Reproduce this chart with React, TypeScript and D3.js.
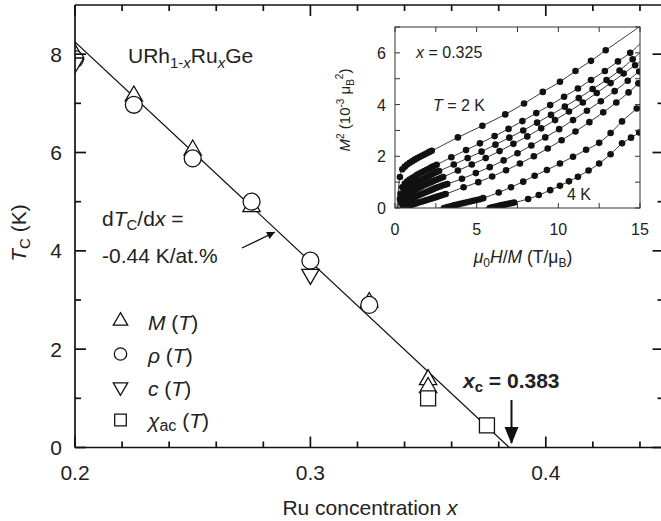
import React from 'react';
import * as d3 from 'd3';

// main panel: Tc vs Ru concentration
const mX = [0.2, 0.225, 0.25, 0.275, 0.325, 0.35, 0.35];
const mT = [8.0, 7.15, 6.05, 4.9, 2.95, 1.38, 1.22];
const rhoX = [0.2, 0.225, 0.25, 0.275, 0.3, 0.325];
const rhoT = [7.9, 6.97, 5.88, 5.0, 3.8, 2.9];
const cX = [0.2, 0.3];
const cT = [7.82, 3.52];
const chiX = [0.35, 0.375];
const chiT = [1.0, 0.45];
const fitX = [0.2, 0.3845];
const fitT = [8.25, 0];

const xTickVals = [0.2, 0.22, 0.24, 0.26, 0.28, 0.3, 0.32, 0.34, 0.36, 0.38, 0.4, 0.42, 0.44];
const xTickLabels = ['0.2', '0.3', '0.4'];
const yTickVals = [0, 1, 2, 3, 4, 5, 6, 7, 8];
const yTickLabels = ['0', '2', '4', '6', '8'];

// inset: Arrott plot, x = 0.325, T = 2 K ... 4 K
const c1 = [[0.3, 1.2], [0.45, 1.5], [0.6, 1.6], [0.75, 1.68], [0.9, 1.75], [1.05, 1.81], [1.2, 1.87], [1.35, 1.92], [1.5, 1.97], [1.65, 2.02], [1.8, 2.07], [1.95, 2.12], [2.1, 2.17], [2.25, 2.21],
  [3.85, 2.73], [5.35, 3.18], [6.75, 3.62], [7.9, 4.04], [9.05, 4.49], [10.1, 4.88], [11.05, 5.3], [12.0, 5.69], [12.9, 6.1]];
const c2 = [[0.35, 0.55], [0.45, 0.8], [0.6, 0.95], [0.75, 1.03], [0.9, 1.1], [1.05, 1.16], [1.2, 1.22], [1.35, 1.28], [1.5, 1.33], [1.65, 1.38], [1.8, 1.43], [1.95, 1.48], [2.1, 1.53], [2.25, 1.58], [2.4, 1.62], [2.55, 1.67],
  [3.45, 1.96], [4.35, 2.24], [5.2, 2.5], [6.1, 2.78], [6.95, 3.06], [7.8, 3.36], [8.65, 3.67], [9.5, 3.98], [10.35, 4.3], [11.2, 4.62], [12.0, 4.95], [12.85, 5.3], [13.65, 5.67], [14.4, 6.0]];
const c3 = [[0.3, 0.35], [0.45, 0.55], [0.6, 0.68], [0.75, 0.76], [0.9, 0.83], [1.05, 0.89], [1.2, 0.95], [1.35, 1.0], [1.5, 1.05], [1.65, 1.1], [1.8, 1.15], [1.95, 1.2], [2.1, 1.25], [2.25, 1.3], [2.4, 1.35], [2.55, 1.39], [2.7, 1.43],
  [3.6, 1.68], [4.45, 1.93], [5.3, 2.18], [6.15, 2.45], [7.0, 2.72], [7.85, 3.0], [8.7, 3.3], [9.55, 3.6], [10.4, 3.92], [11.25, 4.25], [12.1, 4.6], [12.95, 4.95], [13.75, 5.32], [14.55, 5.75]];
const c4 = [[0.4, 0.2], [0.55, 0.38], [0.7, 0.48], [0.85, 0.55], [1.0, 0.61], [1.15, 0.67], [1.3, 0.72], [1.45, 0.77], [1.6, 0.82], [1.75, 0.87], [1.9, 0.92], [2.05, 0.96], [2.2, 1.0], [2.35, 1.04], [2.5, 1.08], [2.65, 1.12], [2.8, 1.16], [2.95, 1.2],
  [3.85, 1.45], [4.7, 1.68], [5.55, 1.93], [6.4, 2.2], [7.25, 2.48], [8.1, 2.77], [8.95, 3.08], [9.8, 3.4], [10.65, 3.73], [11.5, 4.08], [12.35, 4.45], [13.2, 4.83], [14.0, 5.2], [14.7, 5.52]];
const c5 = [[0.5, 0.1], [0.65, 0.2], [0.8, 0.27], [0.95, 0.33], [1.1, 0.38], [1.25, 0.43], [1.4, 0.48], [1.55, 0.52], [1.7, 0.56], [1.85, 0.6], [2.0, 0.64], [2.15, 0.68], [2.3, 0.72], [2.45, 0.76], [2.6, 0.8], [2.75, 0.83], [2.9, 0.87], [3.05, 0.9], [3.2, 0.93],
  [4.1, 1.13], [4.95, 1.35], [5.8, 1.58], [6.65, 1.84], [7.5, 2.12], [8.35, 2.42], [9.2, 2.73], [10.05, 3.05], [10.9, 3.4], [11.75, 3.76], [12.6, 4.13], [13.45, 4.52], [14.25, 4.92], [14.95, 5.28]];
const c6 = [[0.7, 0.03], [0.85, 0.08], [1.0, 0.12], [1.15, 0.15], [1.3, 0.18], [1.45, 0.21], [1.6, 0.24], [1.75, 0.27], [1.9, 0.3], [2.05, 0.33], [2.2, 0.36], [2.35, 0.39], [2.5, 0.42], [2.65, 0.45], [2.8, 0.48], [2.95, 0.51], [3.1, 0.54],
  [4.2, 0.8], [5.1, 1.0], [5.95, 1.22], [6.8, 1.46], [7.65, 1.72], [8.5, 2.0], [9.35, 2.3], [10.2, 2.62], [11.05, 2.96], [11.9, 3.32], [12.75, 3.7], [13.55, 4.08], [14.3, 4.47], [14.9, 4.82]];
const c7 = [[3.0, 0.0], [3.2, 0.04], [3.4, 0.07], [3.6, 0.1], [3.8, 0.13], [4.0, 0.16], [4.2, 0.19], [4.4, 0.22], [4.6, 0.25], [4.8, 0.28], [5.0, 0.31], [5.2, 0.34], [5.4, 0.38],
  [6.35, 0.6], [7.1, 0.8], [7.85, 1.02], [8.55, 1.25], [9.3, 1.47], [10.1, 1.72], [10.9, 1.98], [11.7, 2.25], [12.5, 2.52], [13.2, 2.9], [13.9, 3.35], [14.8, 3.85]];
const c8 = [[5.8, 0.0], [5.95, 0.03], [6.1, 0.05], [6.25, 0.07], [6.4, 0.09], [6.55, 0.11], [6.7, 0.13], [6.85, 0.15], [7.0, 0.17], [7.15, 0.19], [7.3, 0.21],
  [8.15, 0.35], [8.8, 0.5], [9.5, 0.69], [10.1, 0.86], [10.65, 1.03], [11.2, 1.21], [11.85, 1.45], [12.5, 1.72], [13.2, 2.08], [13.9, 2.5], [14.45, 2.72], [14.95, 2.92]];
const curves = [c1, c2, c3, c4, c5, c6, c7, c8];
// where the fitted lines start and end (outside the dots)
const lineStart = [[0.12, 0], [0.15, 0], [0.15, 0], [0.2, 0], [0.3, 0], [0.4, 0], [2.6, 0], [5.5, 0]];
const lineEnd = [[14.95, 7.0], [15, 6.35], [15, 6.0], [15, 5.65], [15, 5.3], [15, 4.9], [15, 3.97], [15, 2.95]];

const insetXTicks = [0, 2.5, 5, 7.5, 10, 12.5, 15];
const insetXLabels = ['0', '5', '10', '15'];
const insetYTicks = [0, 1, 2, 3, 4, 5, 6, 7];
const insetYLabels = ['0', '2', '4', '6'];

const FONT = '"Liberation Sans", Arial, Helvetica, sans-serif';

const App = () => {
  const x = d3.scaleLinear().domain([0.2, 0.45]).range([75, 663.5]);
  const y = d3.scaleLinear().domain([0, 9]).range([447.5, 5]);

  const ix = d3.scaleLinear().domain([0, 15]).range([395, 640]);
  const iy = d3.scaleLinear().domain([0, 7]).range([208, 27]);

  const tri = d3.symbol().type(d3.symbolTriangle).size(130)();
  const circ = d3.symbol().type(d3.symbolCircle).size(225)();
  const sq = d3.symbol().type(d3.symbolSquare).size(225)();
  const triS = d3.symbol().type(d3.symbolTriangle).size(90)();
  const circS = d3.symbol().type(d3.symbolCircle).size(120)();
  const sqS = d3.symbol().type(d3.symbolSquare).size(135)();

  const fitLine = d3.line<number>().x((d, i) => x(fitX[i])).y((d, i) => y(fitT[i]));
  const curveLine = d3.line<number[]>().x(d => ix(d[0])).y(d => iy(d[1])).curve(d3.curveCatmullRom);

  const y0 = y(0);
  const x0 = x(0.2);
  const xR = x(0.45);
  const yT = y(9);

  const mk = (path: string, cx: number, cy: number, rot = 0, key?: any) => (
    <path key={key} d={path} transform={`translate(${cx},${cy}) rotate(${rot})`} fill="white" stroke="#111" strokeWidth={1.3} />
  );

  return (
    <svg width={661} height={521} style={{ position: 'absolute', left: 0, top: 0 }} fontFamily={FONT}>
      <defs>
        <clipPath id="plot"><rect x={x0} y={yT} width={xR - x0} height={y0 - yT} /></clipPath>
        <clipPath id="inset"><rect x={ix(0)} y={iy(7)} width={ix(15) - ix(0)} height={iy(0) - iy(7)} /></clipPath>
        <marker id="ah" viewBox="0 0 10 10" refX="10" refY="5" markerWidth="11" markerHeight="8" markerUnits="userSpaceOnUse" orient="auto">
          <path d="M0,0 L10,5 L0,10 z" fill="#111" />
        </marker>
      </defs>
      <rect width={661} height={521} fill="white" />

      {/* fit line and data */}
      <g clipPath="url(#plot)">
        <path d={fitLine(fitX) || ''} fill="none" stroke="#111" strokeWidth={1.2} />
        {mX.map((v, i) => mk(tri, x(v), y(mT[i]), 0, 'm' + i))}
        {rhoX.map((v, i) => mk(circ, x(v), y(rhoT[i]), 0, 'r' + i))}
        {cX.map((v, i) => mk(tri, x(v), y(cT[i]), 180, 'c' + i))}
        {chiX.map((v, i) => mk(sq, x(v), y(chiT[i]), 0, 's' + i))}
      </g>

      {/* axes frame */}
      <g stroke="#111" strokeWidth={1.7} fill="none">
        <line x1={x0} y1={y0} x2={xR} y2={y0} />
        <line x1={x0} y1={yT} x2={xR} y2={yT} />
        <line x1={x0} y1={yT} x2={x0} y2={y0} />
        <line x1={xR} y1={yT} x2={xR} y2={y0} />
        {xTickVals.map((v, i) => {
          const len = i % 5 === 0 ? 11 : 6;
          return <g key={'xt' + i}>
            <line x1={x(v)} x2={x(v)} y1={y0} y2={y0 - len} />
            <line x1={x(v)} x2={x(v)} y1={yT} y2={yT + len} />
          </g>;
        })}
        {yTickVals.map((v, i) => {
          const len = v % 2 === 0 ? 11 : 6;
          return <g key={'yt' + i}>
            <line x1={x0} x2={x0 + len} y1={y(v)} y2={y(v)} />
            <line x1={xR} x2={xR - len} y1={y(v)} y2={y(v)} />
          </g>;
        })}
      </g>
      <g fontSize={21} fill="#222">
        {xTickLabels.map(t => <text key={t} x={x(+t)} y={480} textAnchor="middle">{t}</text>)}
        {yTickLabels.map(t => <text key={t} x={62} y={y(+t) + 7.5} textAnchor="end">{t}</text>)}
        <text x={370} y={515} textAnchor="middle">Ru concentration <tspan fontStyle="italic">x</tspan></text>
        <text transform="translate(26,233) rotate(-90)" textAnchor="middle">
          <tspan fontStyle="italic">T</tspan><tspan fontSize={15} dy={4}>C</tspan><tspan dy={-4}> (K)</tspan>
        </text>
        <text x={128} y={63}>URh<tspan fontSize={15} dy={5}>1-</tspan><tspan fontSize={15} fontStyle="italic">x</tspan><tspan dy={-5}>Ru</tspan><tspan fontSize={15} fontStyle="italic" dy={5}>x</tspan><tspan dy={-5}>Ge</tspan></text>
        <text x={102} y={226}>d<tspan fontStyle="italic">T</tspan><tspan fontSize={15} dy={4}>C</tspan><tspan dy={-4}>/d</tspan><tspan fontStyle="italic">x</tspan> =</text>
        <text x={102} y={263}>-0.44 K/at.%</text>
        <text x={463} y={388} fontWeight="bold"><tspan fontStyle="italic">x</tspan><tspan fontSize={15} dy={4}>c</tspan><tspan dy={-4}> = 0.383</tspan></text>
        {/* legend */}
        <text x={148} y={330}><tspan fontStyle="italic">M</tspan> (<tspan fontStyle="italic">T</tspan>)</text>
        <text x={148} y={363}><tspan fontStyle="italic">ρ</tspan> (<tspan fontStyle="italic">T</tspan>)</text>
        <text x={148} y={396}><tspan fontStyle="italic">c</tspan> (<tspan fontStyle="italic">T</tspan>)</text>
        <text x={148} y={428}><tspan fontStyle="italic">χ</tspan><tspan fontSize={16} dy={3}>ac</tspan><tspan dy={-3}> (</tspan><tspan fontStyle="italic">T</tspan>)</text>
      </g>
      {mk(triS, 120.5, 321)}
      {mk(circS, 120.5, 354)}
      {mk(triS, 120.5, 387, 180)}
      {mk(sqS, 120.5, 420)}

      {/* arrows */}
      <line x1={242} y1={248} x2={275} y2={232} stroke="#111" strokeWidth={1.3} markerEnd="url(#ah)" />
      <line x1={511.5} y1={400} x2={511.5} y2={443} stroke="#111" strokeWidth={2} />
      <path d="M504.5,427 L518.5,427 L511.5,444 z" fill="#111" />

      {/* inset */}
      <rect x={ix(0)} y={iy(7)} width={ix(15) - ix(0)} height={iy(0) - iy(7)} fill="white" />
      <g clipPath="url(#inset)">
        {curves.map((c, i) => (
          <path key={'l' + i} d={curveLine([lineStart[i], ...c, lineEnd[i]]) || ''} fill="none" stroke="#222" strokeWidth={0.9} />
        ))}
        {curves.map((c, i) => c.map((p, j) => (
          <circle key={'d' + i + '_' + j} cx={ix(p[0])} cy={iy(p[1])} r={3.3} fill="#111" />
        )))}
      </g>
      <g stroke="#333" strokeWidth={1} fill="none">
        <rect x={ix(0)} y={iy(7)} width={ix(15) - ix(0)} height={iy(0) - iy(7)} />
        {insetXTicks.map((v, i) => (
          <g key={'ixt' + i}>
            <line x1={ix(v)} x2={ix(v)} y1={iy(0)} y2={iy(0) - 5} />
            <line x1={ix(v)} x2={ix(v)} y1={iy(7)} y2={iy(7) + 5} />
          </g>
        ))}
        {insetYTicks.map((v, i) => (
          <g key={'iyt' + i}>
            <line x1={ix(0)} x2={ix(0) + 5} y1={iy(v)} y2={iy(v)} />
            <line x1={ix(15)} x2={ix(15) - 5} y1={iy(v)} y2={iy(v)} />
          </g>
        ))}
      </g>
      <g fontSize={16} fill="#222">
        {insetXLabels.map(t => <text key={t} x={ix(+t)} y={235} textAnchor="middle">{t}</text>)}
        {insetYLabels.map(t => <text key={t} x={386} y={iy(+t) + 6} textAnchor="end">{t}</text>)}
        <text x={523} y={263} textAnchor="middle" fontSize={17.5}><tspan fontStyle="italic">μ</tspan><tspan fontSize={12} dy={4}>0</tspan><tspan dy={-4} fontStyle="italic">H</tspan>/<tspan fontStyle="italic">M</tspan> (T/μ<tspan fontSize={12} dy={4}>B</tspan><tspan dy={-4}>)</tspan></text>
        <text transform="translate(350,110) rotate(-90)" textAnchor="middle" fontSize={15}>
          <tspan fontStyle="italic">M</tspan><tspan fontSize={10} dy={-6}>2</tspan><tspan dy={6}> (10</tspan><tspan fontSize={10} dy={-6}>-3</tspan><tspan dy={6}> μ</tspan><tspan fontSize={10} dy={4}>B</tspan><tspan fontSize={10} dy={-11}>2</tspan><tspan dy={7}>)</tspan>
        </text>
        <text x={416} y={58}><tspan fontStyle="italic">x</tspan> = 0.325</text>
        <text x={433} y={111}><tspan fontStyle="italic">T</tspan> = 2 K</text>
        <text x={567} y={200}>4 K</text>
      </g>
    </svg>
  );
};

export default App;
